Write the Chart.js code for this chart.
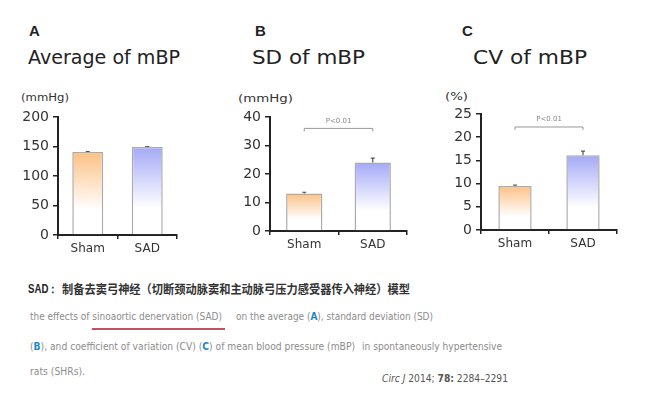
<!DOCTYPE html>
<html>
<head>
<meta charset="utf-8">
<script src="https://cdn.jsdelivr.net/npm/chart.js@4.4.0/dist/chart.umd.min.js"></script>
<style>
body{margin:0;background:#fff;width:655px;height:396px;overflow:hidden;position:relative;font-family:"DejaVu Sans",sans-serif;}
.t{position:absolute;white-space:nowrap;transform-origin:0 50%;}
canvas{position:absolute;}
.g{color:#8c8c8c;font-size:10px;line-height:14px;}
.b{color:#1f86c4;font-weight:bold;}
</style>
</head>
<body>

<div class="t" style="left:29px;top:22px;font:bold 15px 'Liberation Sans';color:#222">A</div>
<div class="t" style="left:255px;top:22px;font:bold 15px 'Liberation Sans';color:#222">B</div>
<div class="t" style="left:462px;top:22px;font:bold 15px 'Liberation Sans';color:#222">C</div>
<div class="t" data-w="152" style="left:28px;top:46px;font-size:19px;line-height:22px;color:#222">Average of mBP</div>
<div class="t" data-w="113" style="left:252px;top:46px;font-size:19px;line-height:22px;color:#222">SD of mBP</div>
<div class="t" data-w="114" style="left:473px;top:46px;font-size:19px;line-height:22px;color:#222">CV of mBP</div>
<div class="t" data-w="48" style="left:21px;top:91px;font-size:11px;line-height:14px;color:#333">(mmHg)</div>
<div class="t" data-w="55" style="left:238px;top:92px;font-size:11px;line-height:14px;color:#333">(mmHg)</div>
<div class="t" data-w="23" style="left:445px;top:90px;font-size:11px;line-height:14px;color:#333">(%)</div>

<canvas id="cA" width="200" height="175" style="left:0;top:90px"></canvas>
<canvas id="cB" width="210" height="175" style="left:210px;top:90px"></canvas>
<canvas id="cC" width="235" height="175" style="left:420px;top:90px"></canvas>

<div class="t" data-w="30" style="left:28px;top:281px;font:bold 12px 'Liberation Sans';line-height:16px;color:#222">SAD：</div>
<div class="t" data-w="348" style="left:62px;top:281px;font-family:'Noto Sans CJK SC';font-weight:bold;font-size:12px;line-height:16px;color:#333">制备去窦弓神经（切断颈动脉窦和主动脉弓压力感受器传入神经）模型</div>

<div class="t g" data-w="192" style="left:30px;top:310px">the effects of sinoaortic denervation (SAD)</div>
<div class="t g" data-w="197" style="left:236px;top:310px">on the average (<span class="b">A</span>), standard deviation (SD)</div>
<div style="position:absolute;left:92px;top:328px;width:133px;height:2px;background:#c2505e"></div>
<div class="t g" data-w="325" style="left:30px;top:340px">(<span class="b">B</span>), and coefficient of variation (CV) (<span class="b">C</span>) of mean blood pressure (mBP)</div>
<div class="t g" data-w="140" style="left:362px;top:340px">in spontaneously hypertensive</div>
<div class="t g" data-w="55" style="left:30px;top:365px">rats (SHRs).</div>
<div class="t" data-w="126" style="left:382px;top:372px;font-size:10px;line-height:14px;color:#555"><i>Circ J</i> 2014; <b>78:</b> 2284–2291</div>

<script>
// group labels and values (mean, upward SEM)
const groups = ['Sham', 'SAD'];
const avgMean = [140.5, 149];
const avgErr = [1, 1];
const sdMean = [13.2, 24];
const sdErr = [0.4, 1.6];
const cvMean = [9.5, 16.1];
const cvErr = [0.2, 0.9];

// y tick labels
const avgTicks = [0, 50, 100, 150, 200];
const sdTicks = [0, 10, 20, 30, 40];
const cvTicks = [0, 5, 10, 15, 20, 25];

// significance brackets
const sdBracket = 36;
const cvBracket = 22.2;
const pText = 'P<0.01';

const barColors = ['#fcc185', '#a4a9f6'];

function barFill(c) {
  const ch = c.chart;
  if (!ch.chartArea) return barColors[c.dataIndex];
  const y = ch.scales.y;
  const top = y.getPixelForValue(c.raw);
  const bot = y.getPixelForValue(0);
  const g = ch.ctx.createLinearGradient(0, top, 0, bot);
  g.addColorStop(0, barColors[c.dataIndex]);
  g.addColorStop(0.7, '#ffffff');
  g.addColorStop(1, '#ffffff');
  return g;
}

const extras = {
  id: 'extras',
  afterDatasetsDraw(chart, args, o) {
    const ctx = chart.ctx, x = chart.scales.x, y = chart.scales.y;
    ctx.save();
    ctx.strokeStyle = '#555';
    ctx.lineWidth = 1.2;
    o.mean.forEach((m, i) => {
      const px = x.getPixelForValue(i);
      const base = y.getPixelForValue(m);
      const top = y.getPixelForValue(m + o.err[i]);
      ctx.beginPath();
      ctx.moveTo(px, base); ctx.lineTo(px, top);
      ctx.moveTo(px - 2, top); ctx.lineTo(px + 2, top);
      ctx.stroke();
    });
    if (o.bracket != null) {
      const x1 = x.getPixelForValue(0), x2 = x.getPixelForValue(1);
      const by = y.getPixelForValue(o.bracket);
      ctx.strokeStyle = '#999';
      ctx.lineWidth = 1;
      ctx.beginPath();
      ctx.moveTo(x1, by + 3); ctx.lineTo(x1, by); ctx.lineTo(x2, by); ctx.lineTo(x2, by + 3);
      ctx.stroke();
      ctx.fillStyle = '#888';
      ctx.font = '7px "DejaVu Sans"';
      ctx.textAlign = 'center';
      ctx.textBaseline = 'bottom';
      ctx.fillText(pText, (x1 + x2) / 2, by - 4);
    }
    ctx.restore();
  }
};

function makeChart(id, mean, err, ticks, bracket, box) {
  return new Chart(document.getElementById(id), {
    type: 'bar',
    data: {
      labels: groups,
      datasets: [{
        data: mean,
        backgroundColor: barFill,
        borderColor: '#ababab',
        borderWidth: 1.5,
        borderSkipped: 'bottom',
        barPercentage: box.bar,
        categoryPercentage: 1
      }]
    },
    options: {
      responsive: false,
      animation: false,
      layout: { padding: { top: box.top, right: box.right, left: 0, bottom: 0 } },
      plugins: {
        legend: { display: false },
        tooltip: { enabled: false },
        extras: { mean: mean, err: err, bracket: bracket }
      },
      scales: {
        x: {
          offset: true,
          grid: { offset: true, drawOnChartArea: false, tickLength: 4, color: '#222', lineWidth: 1.5 },
          border: { color: '#222', width: 2 },
          ticks: { color: '#333', font: { family: 'DejaVu Sans', size: 12 }, padding: 3 },
          afterFit: s => { s.height = box.xh; }
        },
        y: {
          min: ticks[0],
          max: ticks[ticks.length - 1],
          ticks: { stepSize: ticks[1] - ticks[0], color: '#333', font: { family: 'DejaVu Sans', size: 14 }, padding: 4 },
          grid: { drawOnChartArea: false, tickLength: 5, color: '#222', lineWidth: 1.5 },
          border: { color: '#222', width: 2 },
          afterFit: s => { s.width = box.yw; }
        }
      }
    },
    plugins: [extras]
  });
}

makeChart('cA', avgMean, avgErr, avgTicks, null, { yw: 58, top: 27, right: 23, xh: 30, bar: 0.52 });
makeChart('cB', sdMean, sdErr, sdTicks, sdBracket, { yw: 60, top: 27, right: 13, xh: 34, bar: 0.53 });
makeChart('cC', cvMean, cvErr, cvTicks, cvBracket, { yw: 61, top: 24, right: 38, xh: 35, bar: 0.49 });

// stretch texts horizontally to the widths seen on the slide
document.querySelectorAll('.t[data-w]').forEach(el => {
  const w = el.getBoundingClientRect().width;
  el.style.transform = 'scaleX(' + (el.dataset.w / w) + ')';
});
</script>
</body>
</html>
